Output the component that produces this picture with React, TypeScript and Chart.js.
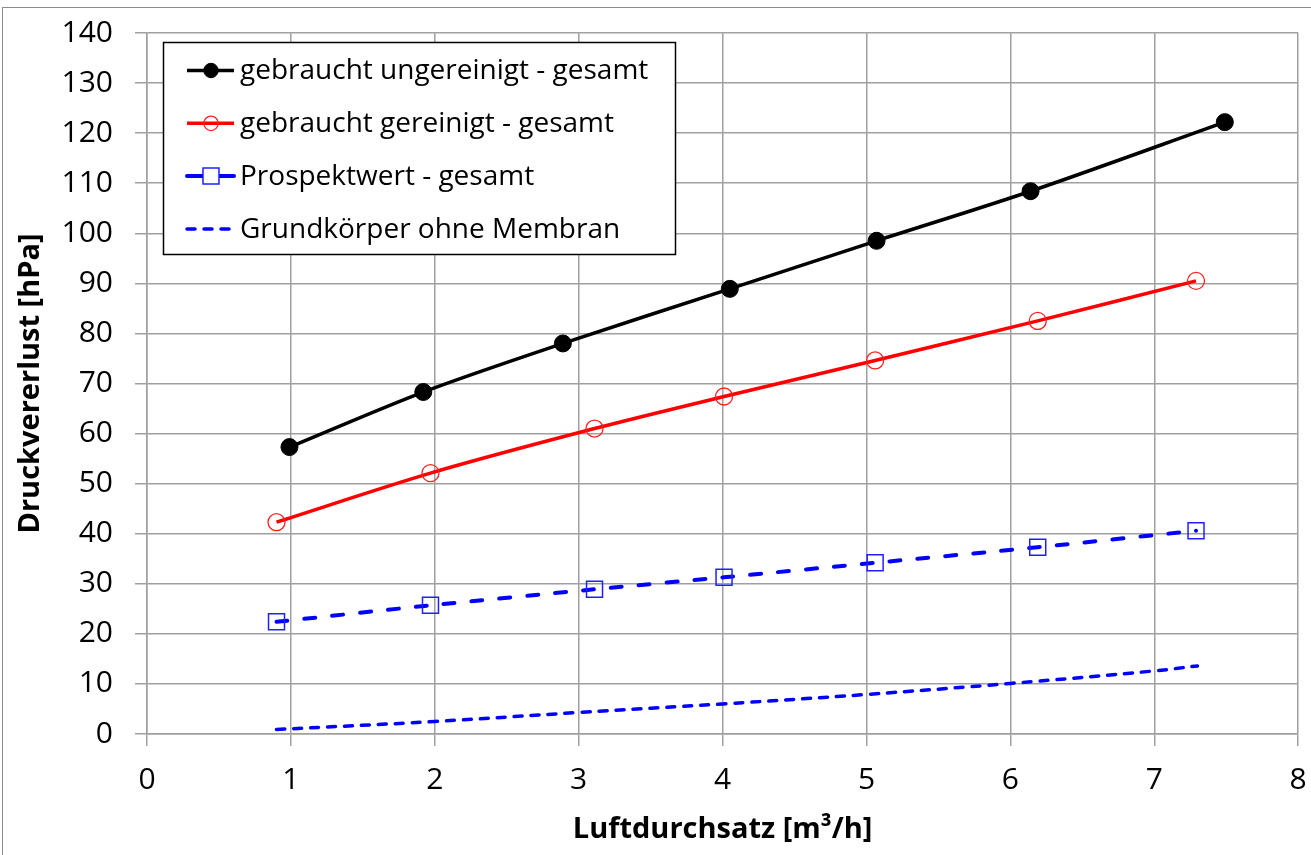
import React, { useEffect, useRef } from 'react';
import { Chart, registerables } from 'chart.js';

Chart.register(...registerables);

const FONT = "'Open Sans', 'Liberation Sans', sans-serif";

// Data
const labelUngereinigt = 'gebraucht ungereinigt - gesamt';
const xUngereinigt = [0.99, 1.92, 2.89, 4.05, 5.07, 6.14, 7.49];
const yUngereinigt = [57.3, 68.3, 78.0, 88.9, 98.5, 108.4, 122.2];

const labelGereinigt = 'gebraucht gereinigt - gesamt';
const xGereinigt = [0.9, 1.97, 3.11, 4.01, 5.06, 6.19, 7.29];
const yGereinigt = [42.3, 52.1, 61.0, 67.4, 74.6, 82.5, 90.5];

const labelProspekt = 'Prospektwert - gesamt';
const xProspekt = [0.9, 1.97, 3.11, 4.01, 5.06, 6.19, 7.29];
const yProspekt = [22.4, 25.7, 28.9, 31.3, 34.2, 37.3, 40.6];

const labelGrund = 'Grundkörper ohne Membran';
const xGrund = [0.9, 2, 3, 4, 5, 6, 7, 7.3];
const yGrund = [0.9, 2.5, 4.3, 6.0, 7.9, 10.1, 12.6, 13.6];

const xTitle = 'Luftdurchsatz [m³/h]';
const yTitle = 'Druckvererlust [hPa]';

const toPts = (xs: number[], ys: number[]) => xs.map((x, i) => ({ x, y: ys[i] }));

const GRID = '#a0a0a0';

const boxLegend = {
  id: 'boxLegend',
  afterDraw(chart: any) {
    const ctx = chart.ctx as CanvasRenderingContext2D;
    const x0 = 163.5, y0 = 42.5, w = 512, h = 212;
    ctx.save();
    ctx.fillStyle = '#ffffff';
    ctx.fillRect(x0, y0, w, h);
    ctx.strokeStyle = '#000000';
    ctx.lineWidth = 1.5;
    ctx.setLineDash([]);
    ctx.strokeRect(x0, y0, w, h);
    chart.data.datasets.forEach((ds: any, i: number) => {
      const cy = 70.5 + i * 52.8;
      ctx.save();
      ctx.strokeStyle = ds.borderColor;
      ctx.lineWidth = ds.borderWidth;
      ctx.lineCap = ds.borderCapStyle || 'butt';
      ctx.setLineDash(ds.legendDash || ds.borderDash || []);
      ctx.beginPath();
      ctx.moveTo(187, cy);
      ctx.lineTo(234, cy);
      ctx.stroke();
      ctx.restore();
      const r = ds.pointRadius || 0;
      if (r > 0) {
        const cx = 211;
        ctx.save();
        ctx.setLineDash([]);
        ctx.strokeStyle = ds.pointBorderColor;
        ctx.fillStyle = ds.pointBackgroundColor;
        ctx.lineWidth = ds.pointBorderWidth;
        ctx.beginPath();
        if (ds.pointStyle === 'rect') {
          const s = Math.SQRT1_2 * r;
          ctx.fillStyle = '#ffffff';
          ctx.rect(cx - s, cy - s, 2 * s, 2 * s);
          ctx.fill();
          ctx.stroke();
        } else {
          ctx.arc(cx, cy, r * 0.85, 0, Math.PI * 2);
          ctx.fill();
          ctx.stroke();
        }
        ctx.restore();
      }
      ctx.fillStyle = '#000000';
      ctx.font = `28px ${FONT}`;
      ctx.textBaseline = 'middle';
      ctx.textAlign = 'left';
      ctx.fillText(ds.label, 240, cy + 1);
    });
    ctx.restore();
  },
};

export default function App() {
  const ref = useRef<HTMLCanvasElement | null>(null);

  useEffect(() => {
    if (!ref.current) return;
    const chart = new Chart(ref.current, {
      type: 'line',
      data: {
        datasets: [
          {
            label: labelUngereinigt,
            data: toPts(xUngereinigt, yUngereinigt),
            borderColor: '#000000',
            borderWidth: 3.5,
            tension: 0.3,
            pointStyle: 'circle',
            pointRadius: 8.5,
            pointBackgroundColor: '#000000',
            pointBorderColor: '#000000',
            pointBorderWidth: 1,
          } as any,
          {
            label: labelGereinigt,
            data: toPts(xGereinigt, yGereinigt),
            borderColor: '#ff0000',
            borderWidth: 3.5,
            tension: 0.3,
            pointStyle: 'circle',
            pointRadius: 8.5,
            pointBackgroundColor: 'rgba(0,0,0,0)',
            pointBorderColor: '#ff2020',
            pointBorderWidth: 1.3,
          } as any,
          {
            label: labelProspekt,
            data: toPts(xProspekt, yProspekt),
            borderColor: '#0000ff',
            borderWidth: 4,
            borderDash: [11, 17],
            legendDash: [],
            borderCapStyle: 'round',
            tension: 0.3,
            pointStyle: 'rect',
            pointRadius: 11.3,
            pointBackgroundColor: 'rgba(0,0,0,0)',
            pointBorderColor: '#2020ff',
            pointBorderWidth: 1.5,
          } as any,
          {
            label: labelGrund,
            data: toPts(xGrund, yGrund),
            borderColor: '#0000ff',
            borderWidth: 3.5,
            borderDash: [8, 9],
            borderCapStyle: 'round',
            tension: 0.4,
            pointRadius: 0,
          } as any,
        ],
      },
      options: {
        animation: false,
        responsive: false,
        layout: { padding: { top: 33, right: 10, left: 0, bottom: 0 } },
        plugins: {
          legend: { display: false },
          tooltip: { enabled: false },
        },
        scales: {
          x: {
            type: 'linear',
            min: 0,
            max: 8,
            ticks: {
              stepSize: 1,
              color: '#000000',
              padding: 16,
              font: { family: FONT, size: 30 },
            },
            grid: { color: GRID, lineWidth: 1.5, tickLength: 12, drawTicks: true },
            border: { color: GRID, width: 1.5 },
            title: {
              display: true,
              text: xTitle,
              color: '#000000',
              font: { family: FONT, size: 29, weight: 'bold' },
              padding: { top: 0, bottom: 8 },
            },
            afterFit: (s: any) => {
              s.height = 121;
              s.paddingLeft = 0;
              s.paddingRight = 0;
            },
          },
          y: {
            type: 'linear',
            min: 0,
            max: 140,
            ticks: {
              stepSize: 10,
              color: '#000000',
              padding: 22,
              font: { family: FONT, size: 30 },
            },
            grid: { color: GRID, lineWidth: 1.5, tickLength: 12, drawTicks: true },
            border: { color: GRID, width: 1.5 },
            title: {
              display: true,
              text: yTitle,
              color: '#000000',
              font: { family: FONT, size: 29, weight: 'bold' },
              padding: { top: 13, bottom: 0 },
            },
            afterFit: (s: any) => {
              s.width = 147;
              s.paddingTop = 0;
              s.paddingBottom = 0;
            },
          },
        },
      },
      plugins: [boxLegend],
    } as any);
    return () => chart.destroy();
  }, []);

  return (
    <div style={{ position: 'fixed', left: 0, top: 0, width: 1311, height: 855, background: '#ffffff' }}>
      <div
        style={{
          position: 'fixed',
          left: 2,
          top: 7,
          width: 1330,
          height: 900,
          border: '1.5px solid #8c8c8c',
          pointerEvents: 'none',
        }}
      />
      <canvas
        ref={ref}
        width={1311}
        height={855}
        style={{ position: 'fixed', left: 0, top: 0, width: 1311, height: 855, display: 'block' }}
      />
    </div>
  );
}
